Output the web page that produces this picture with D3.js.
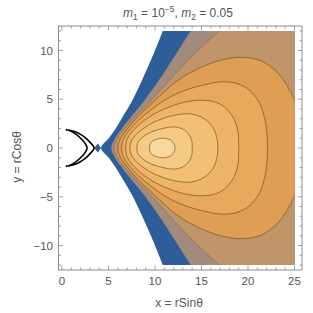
<!DOCTYPE html>
<html>
<head>
<meta charset="utf-8">
<script src="https://cdn.jsdelivr.net/npm/d3@7"></script>
<style>
  body { margin: 0; background: #fff; }
  text { font-family: "Liberation Sans", Arial, sans-serif; fill: #555; }
</style>
</head>
<body>
<div id="chart"></div>
<script>
// Upper halves of the contour curves, in data units.
// The plot is symmetric about y = 0, the lower halves are the mirror images.
var edgeWhite = [[4.2, 0], [5.05, 1.03], [5.81, 2.05], [6.45, 3.08], [7.53, 4.82], [8.71, 7.18], [9.89, 9.74], [11.0, 12.4]];
var edgeBlue = [[5.3, 0], [5.7, 1.0], [6.45, 2.0], [7.25, 3.0], [8.8, 4.8], [10.6, 7.2], [12.3, 9.7], [14.1, 12.4]];
var edgeGrey = [[5.6, 0], [5.95, 1.0], [6.75, 2.0], [7.65, 3.0], [9.5, 4.8], [11.8, 7.2], [14.3, 9.7], [17.4, 12.4]];
var contour6 = [[6.0, 0], [6.3, 1.0], [7.05, 2.0], [7.95, 3.0], [9.9, 4.8], [12.4, 6.9], [15, 8.3], [17.5, 9.1], [19.5, 9.3], [21.5, 8.9], [23.3, 7.6], [24.5, 5.9], [25.4, 4.1]];
var contour5 = [[6.4, 0], [6.65, 1.0], [7.4, 2.0], [8.4, 3.0], [9.7, 4.0], [11.2, 5.0], [13.2, 5.9], [15.4, 6.5], [17.6, 6.8], [19.6, 6.3], [21.0, 5.0], [21.8, 3.0], [22.1, 0]];
var contour4 = [[6.85, 0], [7.05, 1.0], [7.85, 2.0], [9.1, 3.0], [11.0, 4.0], [13.2, 4.7], [15.2, 4.9], [17, 4.5], [18.3, 3.3], [18.9, 1.8], [19.0, 0]];
var contour3 = [[7.3, 0], [7.5, 0.8], [8.35, 1.7], [9.8, 2.6], [11.8, 3.3], [13.8, 3.5], [15.3, 3.0], [16.3, 2.0], [16.7, 0.8], [16.75, 0]];
var contour2 = [[8.06, 0], [8.25, 0.7], [9.2, 1.45], [10.6, 1.95], [12.2, 2.15], [13.3, 1.75], [13.9, 0.9], [14.0, 0]];
var contour1 = [[9.4, 0], [9.6, 0.6], [10.4, 0.95], [11.3, 0.95], [11.9, 0.65], [12.15, 0]];

// small blue patch between the crescent and the main region
var saddlePatch = [[3.45, 0], [3.85, 0.45], [4.2, 0]];

// black crescent, outer and inner arcs (upper halves, ending on the axis)
var crescentOuter = [[0.68, 1.85], [1.5, 1.65], [2.4, 1.15], [3.05, 0.55], [3.45, 0]];
var crescentInner = [[0.68, 1.85], [1.3, 1.55], [2.0, 1.0], [2.5, 0.45], [2.7, 0]];

var bandColors = ["#2e5e99", "#a28b7c", "#c0956a", "#de9e53", "#e8a95c", "#eeb467", "#f2bf74", "#f5ca85", "#f8d89c", "#fdf1c8"];

var xTicks = [0, 5, 10, 15, 20, 25];
var yTicks = [-10, -5, 0, 5, 10];
var xMinor = d3.range(0, 26, 1);
var yMinor = d3.range(-12, 13, 1);

var svgWidth = 313;
var svgHeight = 313;
var frame = {left: 58.5, right: 302, top: 26, bottom: 270};

var svg = d3.select("#chart")
  .append("svg")
  .attr("width", svgWidth)
  .attr("height", svgHeight);

var xScale = d3.scaleLinear().domain([0, 25]).range([62, 294.5]);
var yScale = d3.scaleLinear().domain([-12, 12]).range([265, 31]);

// clip fills to the data rectangle
svg.append("clipPath").attr("id", "dataClip")
  .append("rect")
  .attr("x", xScale(0))
  .attr("y", yScale(12))
  .attr("width", xScale(25) - xScale(0))
  .attr("height", yScale(-12) - yScale(12));

// upper half starting on the axis -> closed loop
function mirrorClosed(half) {
  var bottom = half.slice(1, -1).map(d => [d[0], -d[1]]).reverse();
  return half.concat(bottom);
}
// upper half running from the edge down to the axis -> open curve top to bottom
function mirrorOpen(half) {
  var top = half[0][1] === 0 ? half.slice().reverse() : half.slice();
  var bottom = top.slice(0, -1).map(d => [d[0], -d[1]]).reverse();
  return top.concat(bottom);
}

var line = d3.line()
  .x(d => xScale(d[0]))
  .y(d => yScale(d[1]))
  .curve(d3.curveCatmullRom.alpha(0.5));

var closedLine = d3.line()
  .x(d => xScale(d[0]))
  .y(d => yScale(d[1]))
  .curve(d3.curveCatmullRomClosed.alpha(0.5));

// region to the right of an open curve, closed through the right side
function openRegion(half) {
  return line(mirrorOpen(half)) + `L${xScale(27)},${yScale(-13)}L${xScale(27)},${yScale(13)}Z`;
}

var plot = svg.append("g").attr("clip-path", "url(#dataClip)");

var openCurves = [edgeWhite, edgeBlue, edgeGrey, contour6];
var closedCurves = [contour5, contour4, contour3, contour2, contour1];

openCurves.forEach(function (c, i) {
  plot.append("path")
    .attr("d", openRegion(c))
    .attr("fill", bandColors[i]);
});

closedCurves.forEach(function (c, i) {
  plot.append("path")
    .attr("d", closedLine(mirrorClosed(c)))
    .attr("fill", bandColors[i + 4]);
});

// contour lines
var lineColor = "#6b4a1e";
[edgeGrey, contour6].forEach(function (c, i) {
  plot.append("path")
    .attr("d", line(mirrorOpen(c)))
    .attr("fill", "none")
    .attr("stroke", lineColor)
    .attr("stroke-opacity", i === 0 ? 0.35 : 0.7)
    .attr("stroke-width", 0.9);
});
closedCurves.forEach(function (c) {
  plot.append("path")
    .attr("d", closedLine(mirrorClosed(c)))
    .attr("fill", "none")
    .attr("stroke", lineColor)
    .attr("stroke-opacity", 0.7)
    .attr("stroke-width", 0.9);
});

// saddle patch
svg.append("path")
  .attr("d", d3.line().x(d => xScale(d[0])).y(d => yScale(d[1]))(mirrorClosed(saddlePatch)) + "Z")
  .attr("fill", bandColors[0]);

// crescent
[crescentOuter, crescentInner].forEach(function (c) {
  svg.append("path")
    .attr("d", line(mirrorOpen(c)))
    .attr("fill", "none")
    .attr("stroke", "#000")
    .attr("stroke-width", 1.6);
});
svg.selectAll(".endDot")
  .data([crescentOuter[0], [crescentOuter[0][0], -crescentOuter[0][1]]])
  .enter()
  .append("circle")
  .attr("cx", d => xScale(d[0]) - 1.5)
  .attr("cy", d => yScale(d[1]))
  .attr("r", 1.1)
  .attr("fill", "#000");

// frame
var tickColor = "#8c8c8c";
svg.append("rect")
  .attr("x", frame.left)
  .attr("y", frame.top)
  .attr("width", frame.right - frame.left)
  .attr("height", frame.bottom - frame.top)
  .attr("fill", "none")
  .attr("stroke", tickColor)
  .attr("stroke-width", 1);

var ticks = svg.append("g").attr("stroke", tickColor).attr("stroke-width", 0.8);

xMinor.forEach(function (v) {
  var len = v % 5 === 0 ? 4.5 : 2.5;
  var px = xScale(v);
  ticks.append("line").attr("x1", px).attr("x2", px).attr("y1", frame.bottom).attr("y2", frame.bottom - len);
  ticks.append("line").attr("x1", px).attr("x2", px).attr("y1", frame.top).attr("y2", frame.top + len);
});
yMinor.forEach(function (v) {
  var len = v % 5 === 0 ? 4.5 : 2.5;
  var py = yScale(v);
  ticks.append("line").attr("y1", py).attr("y2", py).attr("x1", frame.left).attr("x2", frame.left + len);
  ticks.append("line").attr("y1", py).attr("y2", py).attr("x1", frame.right).attr("x2", frame.right - len);
});

function fmt(v) {
  return v < 0 ? "\u2212" + Math.abs(v) : String(v);
}

svg.selectAll(".xTick")
  .data(xTicks)
  .enter()
  .append("text")
  .attr("x", d => xScale(d))
  .attr("y", 285)
  .attr("text-anchor", "middle")
  .attr("font-size", "11.5px")
  .text(fmt);

svg.selectAll(".yTick")
  .data(yTicks)
  .enter()
  .append("text")
  .attr("x", 53)
  .attr("y", d => yScale(d) + 4)
  .attr("text-anchor", "end")
  .attr("font-size", "11.5px")
  .text(fmt);

// axis labels
svg.append("text")
  .attr("x", 179)
  .attr("y", 307)
  .attr("text-anchor", "middle")
  .attr("font-size", "12px")
  .text("x = rSin\u03b8");

svg.append("text")
  .attr("transform", "translate(21, 157) rotate(-90)")
  .attr("text-anchor", "middle")
  .attr("font-size", "12px")
  .text("y = rCos\u03b8");

// title
var title = svg.append("text")
  .attr("x", 178)
  .attr("y", 17)
  .attr("text-anchor", "middle")
  .attr("font-size", "12px");
title.append("tspan").attr("font-style", "italic").text("m");
title.append("tspan").attr("font-size", "8.5px").attr("dy", 3).text("1");
title.append("tspan").attr("dy", -3).text(" = 10");
title.append("tspan").attr("font-size", "8.5px").attr("dy", -5).text("\u22125");
title.append("tspan").attr("dy", 5).text(", ");
title.append("tspan").attr("font-style", "italic").text("m");
title.append("tspan").attr("font-size", "8.5px").attr("dy", 3).text("2");
title.append("tspan").attr("dy", -3).text(" = 0.05");
</script>
</body>
</html>
